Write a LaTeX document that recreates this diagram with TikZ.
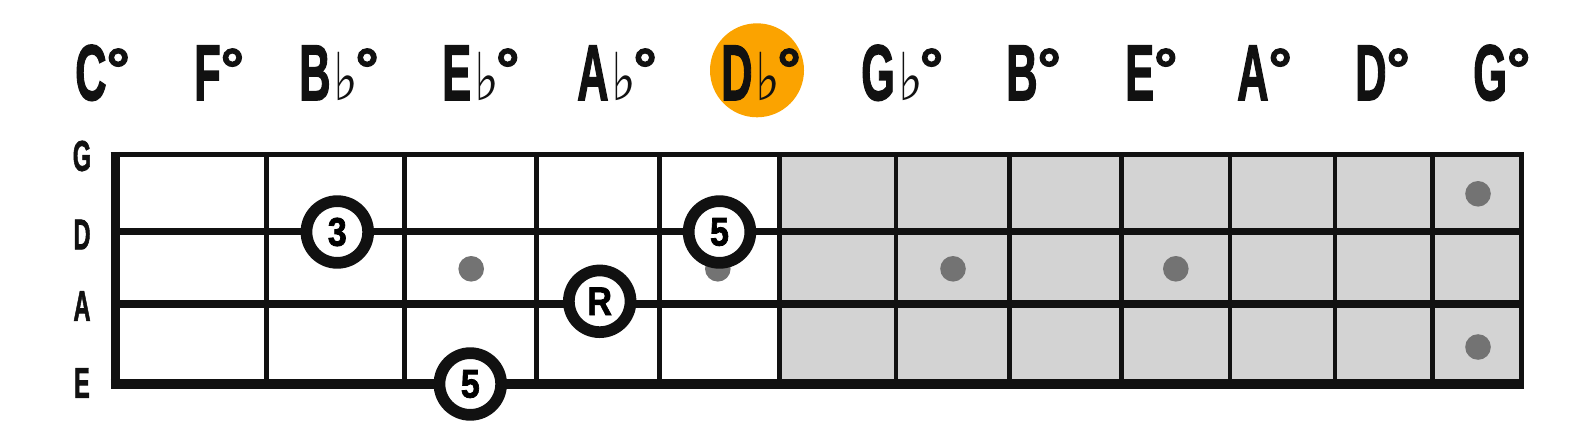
\documentclass[tikz,border=0pt]{standalone}
\usepackage{fontspec}
\setmainfont{Liberation Sans}[BoldFeatures={FakeBold=2}]
\newfontfamily\symfont{DejaVu Sans}
\usetikzlibrary{positioning}
\definecolor{Ink}{HTML}{111111}
\definecolor{Board}{HTML}{D3D3D3}
\definecolor{Marker}{HTML}{737373}
\definecolor{Accent}{HTML}{FBA300}
\newcommand\narrow[1]{\scalebox{0.55}[1]{#1}}
\newcommand\tonetext[1]{\scalebox{0.85}[1]{#1}}
\newcommand\flatsign{\kern3pt\scalebox{0.8}[1]{\symfont\mdseries\fontsize{66}{66}\selectfont ♭}\kern-3pt}
\newcommand\dimsign{\raisebox{11pt}{\fontsize{58}{58}\selectfont °}}
\tikzset{
  chord/.style={anchor=base west,inner sep=0pt,text=Ink,font=\fontsize{79}{79}\selectfont\bfseries},
  strname/.style={inner sep=0pt,text=Ink,font=\fontsize{43}{43}\selectfont\bfseries},
  fret/.style={line width=4.6pt,draw=Ink},
  strline/.style={draw=Ink},
  marker/.style={circle,fill=Marker,minimum size=25.6pt,inner sep=0pt},
  tone/.style={circle,draw=Ink,line width=11.7pt,fill=white,minimum size=61.7pt,inner sep=0pt,font=\fontsize{40}{40}\selectfont\bfseries},
  keyring/.style={circle,fill=Accent,minimum size=94pt,inner sep=0pt}
}

\begin{document}
\begin{tikzpicture}[x=1pt,y=-1pt]
  \useasboundingbox (0,0) rectangle (1595,428);
  % chord names along the top
  \node[keyring] (hl) at (757,70.3) {};
  \node[chord] (cC) at (75,100) {\narrow{C}\dimsign};
  \node[chord] (cF) at (194,100) {\narrow{F}\dimsign};
  \node[chord] (cBb) at (299,100) {\narrow{B}\flatsign\dimsign};
  \node[chord] (cEb) at (442,100) {\narrow{E}\flatsign\dimsign};
  \node[chord] (cAb) at (577,100) {\narrow{A}\flatsign\dimsign};
  \node[chord] (cDb) at (721,100) {\narrow{D}\flatsign\dimsign};
  \node[chord] (cGb) at (861,100) {\narrow{G}\flatsign\dimsign};
  \node[chord] (cB) at (1006,100) {\narrow{B}\dimsign};
  \node[chord] (cE) at (1125,100) {\narrow{E}\dimsign};
  \node[chord] (cA) at (1237,100) {\narrow{A}\dimsign};
  \node[chord] (cD) at (1355,100) {\narrow{D}\dimsign};
  \node[chord] (cG) at (1473,100) {\narrow{G}\dimsign};
  % fretboard
  \fill[white] (115.3,154.3) rectangle (779.2,384.3);
  \fill[Board] (779.2,154.3) rectangle (1521.8,384.3);
  \draw[fret] (266.2,154.3) -- (266.2,384.3);
  \draw[fret] (404.5,154.3) -- (404.5,384.3);
  \draw[fret] (536.3,154.3) -- (536.3,384.3);
  \draw[fret] (659.7,154.3) -- (659.7,384.3);
  \draw[fret] (779.2,154.3) -- (779.2,384.3);
  \draw[fret] (895.8,154.3) -- (895.8,384.3);
  \draw[fret] (1009.7,154.3) -- (1009.7,384.3);
  \draw[fret] (1121.7,154.3) -- (1121.7,384.3);
  \draw[fret] (1229.8,154.3) -- (1229.8,384.3);
  \draw[fret] (1334.8,154.3) -- (1334.8,384.3);
  \draw[fret] (1432.7,154.3) -- (1432.7,384.3);
  \draw[strline,line width=6.7pt] (115.3,231.7) -- (1521.8,231.7);
  \draw[strline,line width=8.3pt] (115.3,304.2) -- (1521.8,304.2);
  \draw[strline,line width=4.8pt] (110.7,154.3) -- (1524.3,154.3);
  \draw[strline,line width=10pt] (110.7,384.3) -- (1524.3,384.3);
  \draw[strline,line width=9.3pt] (115.3,151.9) -- (115.3,389.3);
  \draw[strline,line width=5pt] (1521.8,151.9) -- (1521.8,389.3);
  % string names
  \node[strname] (sG) at (82,156) {\narrow{G}};
  \node[strname] (sD) at (82,234.5) {\narrow{D}};
  \node[strname] (sA) at (82,306) {\narrow{A}};
  \node[strname] (sE) at (82,383) {\narrow{E}};
  % inlay markers
  \node[marker] (m3) at (471.2,268.8) {};
  \node[marker] (m5) at (717.8,268.8) {};
  \node[marker] (m7) at (953,268.8) {};
  \node[marker] (m9) at (1175.8,268.8) {};
  \node[marker] (m12a) at (1478,193.8) {};
  \node[marker] (m12b) at (1478,347) {};
  % chord tones
  \node[tone] (third) at (337.3,232) {\tonetext{3}};
  \node[tone] (fifthlow) at (470.3,384) {\tonetext{5}};
  \node[tone] (root) at (599.7,301.3) {\tonetext{R}};
  \node[tone] (fifthhigh) at (719.5,232) {\tonetext{5}};
\end{tikzpicture}
\end{document}
